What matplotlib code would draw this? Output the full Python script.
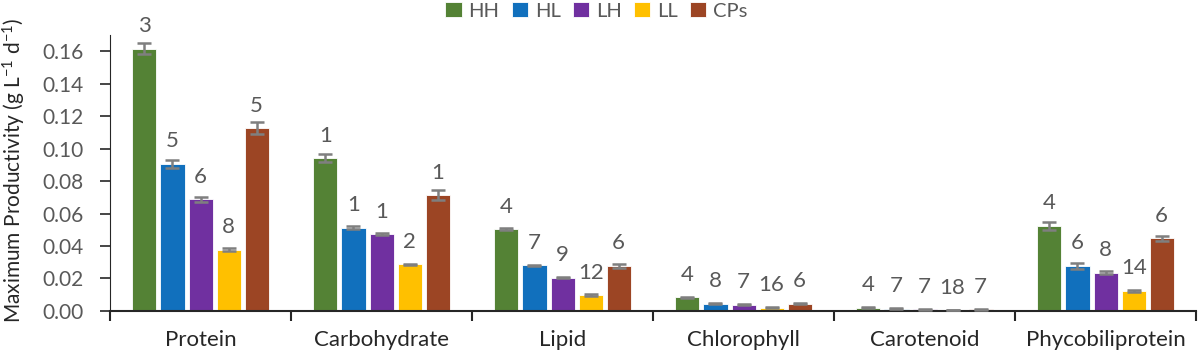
import matplotlib
import numpy as np

matplotlib.use("Agg")
import matplotlib.pyplot as plt  # noqa: E402

plt.rcParams["font.family"] = ["Lato", "DejaVu Sans"]
plt.rcParams["mathtext.fontset"] = "custom"
plt.rcParams["mathtext.rm"] = "Lato"
plt.rcParams["mathtext.it"] = "Lato"
plt.rcParams["mathtext.default"] = "rm"

categories = ["Protein", "Carbohydrate", "Lipid", "Chlorophyll", "Carotenoid",
              "Phycobiliprotein"]
series = ["HH", "HL", "LH", "LL", "CPs"]
colors = ["#548235", "#1170BD", "#7030A0", "#FFC000", "#9C4524"]

# values per series, one entry per category
hh = [0.1615, 0.0942, 0.0502, 0.0085, 0.0020, 0.0525]
hl = [0.0906, 0.0513, 0.0282, 0.0045, 0.0015, 0.0278]
lh = [0.0687, 0.0472, 0.0205, 0.0038, 0.0010, 0.0236]
ll = [0.0378, 0.0288, 0.0098, 0.0020, 0.0005, 0.0125]
cp = [0.1127, 0.0712, 0.0277, 0.0045, 0.0010, 0.0447]

hh_err = [0.0033, 0.0025, 0.0006, 0.0003, 0.0002, 0.0026]
hl_err = [0.0026, 0.0010, 0.0004, 0.0003, 0.0002, 0.0017]
lh_err = [0.0014, 0.0006, 0.0004, 0.0003, 0.0002, 0.0010]
ll_err = [0.0007, 0.0004, 0.0004, 0.0003, 0.0002, 0.0007]
cp_err = [0.0035, 0.0030, 0.0014, 0.0004, 0.0002, 0.0015]

# numbers printed above the bars
hh_lab = ["3", "1", "4", "4", "4", "4"]
hl_lab = ["5", "1", "7", "8", "7", "6"]
lh_lab = ["6", "1", "9", "7", "7", "8"]
ll_lab = ["8", "2", "12", "16", "18", "14"]
cp_lab = ["5", "1", "6", "6", "7", "6"]

values = [hh, hl, lh, ll, cp]
errors = [hh_err, hl_err, lh_err, ll_err, cp_err]
labels = [hh_lab, hl_lab, lh_lab, ll_lab, cp_lab]

grey = "#595959"
dark = "#262626"
fig = plt.figure(figsize=(12, 3.57), dpi=100)
ax = fig.add_axes([0.0917, 0.129, 0.905, 0.773])

x = np.arange(len(categories))
width, step = 0.133, 0.155
for i, name in enumerate(series):
    pos = x + (i - 2) * step
    ax.bar(pos, values[i], width, color=colors[i], edgecolor="white",
           linewidth=0.6, label=name, zorder=2)
    ax.errorbar(pos, values[i], yerr=errors[i], fmt="none", ecolor="#7F7F7F",
                elinewidth=1.8, capsize=5, capthick=1.8, zorder=3)
    for xp, v, t in zip(pos, values[i], labels[i]):
        ax.annotate(t, (xp, v), xytext=(0, 9), textcoords="offset points",
                    ha="center", va="bottom", fontsize=16, color=grey)

ax.set_xlim(-0.5, len(categories) - 0.5)
ax.set_ylim(0, 0.17)
yt = np.arange(0, 0.161, 0.02)
ax.set_yticks(yt)
ax.set_yticklabels([f"{v:.2f}" for v in yt])
ax.set_xticks(x)
ax.set_xticklabels(categories)
ax.set_xticks(np.arange(-0.5, len(categories)), minor=True)
ax.tick_params(axis="x", which="major", length=0, pad=14, labelsize=16,
               labelcolor=dark)
ax.tick_params(axis="x", which="minor", length=7, width=1.5, color=dark)
ax.tick_params(axis="y", length=7, width=1.2, color=dark, labelsize=15,
               labelcolor=grey, pad=12)

for s in ["top", "right"]:
    ax.spines[s].set_visible(False)
ax.spines["left"].set_color(dark)
ax.spines["bottom"].set_color(dark)
ax.spines["bottom"].set_linewidth(1.5)

ax.set_ylabel("Maximum Productivity (g L$^{-1}$ d$^{-1}$)", fontsize=15,
              color=dark)
ax.yaxis.set_label_coords(-0.076, 0.51)

fig.legend(loc="upper center", bbox_to_anchor=(0.497, 1.045), ncol=5,
           frameon=False, fontsize=14.5, labelcolor=grey, handlelength=0.8,
           handleheight=0.8, handletextpad=0.35, columnspacing=0.6)

fig.savefig("out.png", dpi=100)
